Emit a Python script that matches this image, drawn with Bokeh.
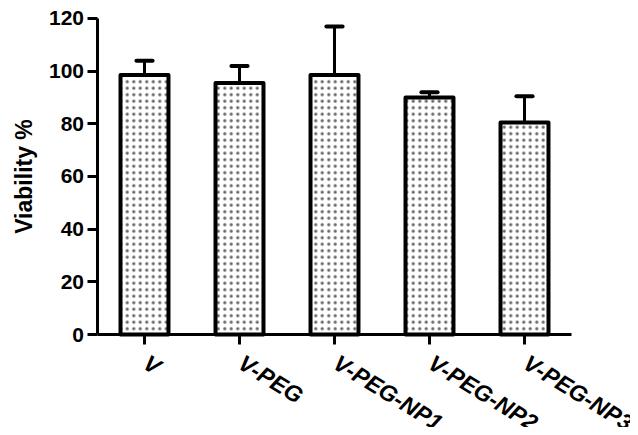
from bokeh.plotting import figure
from bokeh.models import Range1d, ColumnDataSource, LabelSet, FixedTicker
from bokeh.core.properties import value
from bokeh.embed import file_html
from bokeh.resources import INLINE
from bokeh.transform import dodge

categories = ["V", "V-PEG", "V-PEG-NP1", "V-PEG-NP2", "V-PEG-NP3"]
viability = [98.5, 95.5, 98.5, 90.0, 80.5]
sd_upper = [5.5, 6.5, 18.5, 2.0, 10.0]
y_ticks = [0, 20, 40, 60, 80, 100, 120]

# one unit per category, bar centred in its slot
xpos = [i + 0.5 for i in range(len(categories))]
tops = [v + e for v, e in zip(viability, sd_upper)]
src = ColumnDataSource(dict(x=xpos, cat=categories, val=viability, top=tops,
                            base=[0] * len(categories)))

# the frame fills the whole canvas; the axes are pinned at x = 0 and y = 0
p = figure(width=630, height=427,
           x_range=Range1d(-1.0158, 5.6158), y_range=Range1d(-35.316, 126.835),
           output_backend="svg", toolbar_location=None,
           min_border_left=0, min_border_right=0, min_border_top=0, min_border_bottom=0)
p.outline_line_color = None
p.xgrid.visible = False
p.ygrid.visible = False
p.background_fill_color = "white"
p.border_fill_color = "white"

# error bars (upper only)
p.segment(x0="x", y0="val", x1="x", y1="top", source=src, line_color="black", line_width=3)
p.segment(x0=dodge("x", -0.085), y0="top", x1=dodge("x", 0.085), y1="top",
          source=src, line_color="black", line_width=4, line_cap="round")

p.vbar(x="x", top="val", bottom=0, width=0.505, source=src, fill_color="white",
       line_color="black", line_width=4, line_join="round",
       hatch_pattern="dot", hatch_scale=6.5, hatch_color="#666666", hatch_weight=0.3)

for ax in (p.xaxis[0], p.yaxis[0]):
    ax.axis_line_width = 3
    ax.axis_line_color = "black"
    ax.major_tick_line_width = 3
    ax.major_tick_line_color = "black"
    ax.major_tick_out = 10
    ax.major_tick_in = 0
    ax.minor_tick_line_color = None

p.yaxis.fixed_location = 0
p.yaxis.ticker = FixedTicker(ticks=y_ticks, minor_ticks=[])
p.yaxis.bounds = (0, 120)
p.yaxis.major_label_text_font = "Liberation Sans"
p.yaxis.major_label_text_font_style = "bold"
p.yaxis.major_label_text_font_size = "21px"
p.yaxis.major_label_text_color = "black"
p.yaxis.major_label_standoff = 3
p.yaxis.axis_label = "Viability %"
p.yaxis.axis_label_text_font = "Liberation Sans"
p.yaxis.axis_label_text_font_style = "bold"
p.yaxis.axis_label_text_font_size = "23px"
p.yaxis.axis_label_text_color = "black"
p.yaxis.axis_label_standoff = 9

p.xaxis.fixed_location = 0
p.xaxis.ticker = FixedTicker(ticks=xpos, minor_ticks=[])
p.xaxis.bounds = (0, len(categories))
p.xaxis.major_label_text_color = None
p.xaxis.major_label_standoff = 0

labels = LabelSet(x="x", y="base", text="cat", source=src, angle=-0.55,
                  x_offset=8, y_offset=-15, text_align="left", text_baseline="top",
                  text_font=value("Liberation Sans"), text_font_style="bold italic",
                  text_font_size="23px", text_color="black")
p.add_layout(labels)

open("out.html", "w").write(file_html(p, INLINE))
